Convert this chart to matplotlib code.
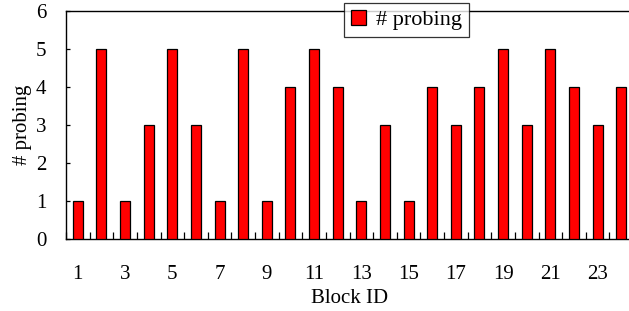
import matplotlib
import matplotlib.pyplot as plt
from matplotlib.ticker import FixedLocator

matplotlib.use("Agg")

block_ids = list(range(1, 25))
probing = [1, 5, 1, 3, 5, 3, 1, 5, 1, 4, 5, 4, 1, 3, 1, 4, 3, 4, 5, 3, 5, 4, 3, 4]
x_labels = [str(i) for i in block_ids if i % 2 == 1]

plt.rcParams["font.family"] = ["Liberation Serif", "DejaVu Serif"]

W, H = 629, 311
fig = plt.figure(figsize=(W / 100, H / 100), dpi=100)
ax = fig.add_axes([66 / W, 1 - 239 / H, (633 - 66) / W, 228 / H])

ax.bar(block_ids, probing, width=0.42, color="#ff0000", edgecolor="black",
       linewidth=0.9, label="# probing", zorder=3)

ax.set_xlim(0.5, 24.5)
ax.set_ylim(0, 6)
ax.set_yticks(range(0, 7))
ax.tick_params(axis="y", direction="in", length=3, width=0.9, pad=14, labelsize=15)

ax.set_xticks([i for i in block_ids if i % 2 == 1])
ax.set_xticklabels(x_labels)
ax.tick_params(axis="x", which="major", length=0, pad=19, labelsize=15)
ax.xaxis.set_minor_locator(FixedLocator([i + 0.5 for i in range(0, 25)]))
ax.tick_params(axis="x", which="minor", direction="in", length=5, width=0.9)

ax.set_xlabel("Block ID", fontsize=15, labelpad=3)
ax.set_ylabel("# probing", fontsize=15, labelpad=3)

for s in ax.spines.values():
    s.set_linewidth(1.0)
ax.spines["right"].set_visible(False)

leg = ax.legend(loc="upper left", bbox_to_anchor=((344 - 66) / (633 - 66), 1 + 8 / 228),
                fontsize=16, frameon=True, fancybox=False, shadow=False,
                handlelength=0.7, handleheight=0.7, handletextpad=0.45,
                borderpad=0.3, borderaxespad=0)
leg.get_frame().set_edgecolor("black")
leg.get_frame().set_linewidth(0.9)
leg.set_zorder(5)

fig.savefig("out.png", dpi=100)
